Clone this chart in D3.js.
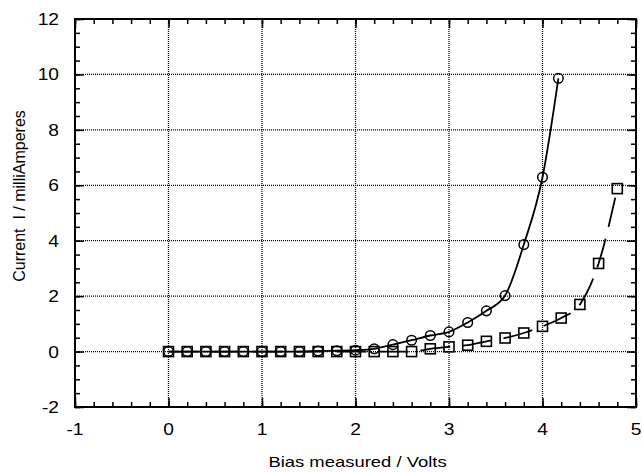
<!DOCTYPE html>
<meta charset="utf-8">
<script src="https://d3js.org/d3.v7.min.js"></script>
<style>
  body { margin: 0; background: #fff; }
  text { font-family: "Liberation Sans", Arial, sans-serif; fill: #000; }
</style>
<div id="chart"></div>
<script>

  // values
  var circleX = [0, 0.2, 0.4, 0.6, 0.8, 1.0, 1.2, 1.4, 1.6, 1.8, 2.0, 2.2, 2.4, 2.6, 2.8, 3.0, 3.2, 3.4, 3.6, 3.8, 4.0, 4.17];
  var circleY = [0, 0, 0, 0, 0, 0, 0, 0, 0.02, 0.03, 0.05, 0.1, 0.25, 0.41, 0.58, 0.71, 1.05, 1.47, 2.02, 3.86, 6.29, 9.86];
  var squareX = [0, 0.2, 0.4, 0.6, 0.8, 1.0, 1.2, 1.4, 1.6, 1.8, 2.0, 2.2, 2.4, 2.6, 2.8, 3.0, 3.2, 3.4, 3.6, 3.8, 4.0, 4.2, 4.4, 4.6, 4.8];
  var squareY = [0, 0, 0, 0, 0, 0, 0, 0, 0, 0, 0, 0, 0, 0, 0.1, 0.17, 0.23, 0.37, 0.49, 0.67, 0.91, 1.21, 1.70, 3.18, 5.88];

  var xTicks = [-1, 0, 1, 2, 3, 4, 5];
  var yTicks = [-2, 0, 2, 4, 6, 8, 10, 12];

  var W = 642, H = 473;
  var margin = {top: 19, right: 6, bottom: 66, left: 75};
  var width = W - margin.left - margin.right,
      height = H - margin.top - margin.bottom;

  var svg = d3.select("#chart")
    .append("svg")
      .attr("width", W)
      .attr("height", H)
    .append("g")
      .attr("transform", "translate(" + margin.left + "," + margin.top + ")");

  var x = d3.scaleLinear().domain([-1, 5]).range([0, width]);
  var y = d3.scaleLinear().domain([-2, 12]).range([height, 0]);

  var xMinor = d3.range(-1, 5.001, 0.2).map(function(d) { return +d.toFixed(1); });
  var yMinor = d3.range(-2, 12.001, 0.5);

  // dotted grid
  svg.append("g")
    .selectAll("line")
    .data(xTicks.slice(1, -1))
    .enter().append("line")
      .attr("x1", function(d) { return x(d); })
      .attr("x2", function(d) { return x(d); })
      .attr("y1", 0).attr("y2", height)
      .attr("stroke", "#000").attr("stroke-width", 1.3)
      .attr("stroke-dasharray", "1,1");
  svg.append("g")
    .selectAll("line")
    .data(yTicks.slice(1, -1))
    .enter().append("line")
      .attr("y1", function(d) { return y(d); })
      .attr("y2", function(d) { return y(d); })
      .attr("x1", 0).attr("x2", width)
      .attr("stroke", "#000").attr("stroke-width", 1.3)
      .attr("stroke-dasharray", "1,1");

  function styleAxis(g) {
    g.select(".domain").remove();
    g.selectAll("line").attr("stroke", "#000").attr("stroke-width", 1.5);
  }

  // minor ticks, all four sides, pointing inward
  svg.append("g").attr("transform", "translate(0," + height + ")")
    .call(d3.axisBottom(x).tickValues(xMinor).tickSize(-5).tickFormat(""))
    .call(styleAxis);
  svg.append("g")
    .call(d3.axisTop(x).tickValues(xMinor).tickSize(-5).tickFormat(""))
    .call(styleAxis);
  svg.append("g")
    .call(d3.axisLeft(y).tickValues(yMinor).tickSize(-5).tickFormat(""))
    .call(styleAxis);
  svg.append("g").attr("transform", "translate(" + width + ",0)")
    .call(d3.axisRight(y).tickValues(yMinor).tickSize(-5).tickFormat(""))
    .call(styleAxis);

  // major ticks
  svg.append("g").attr("transform", "translate(0," + height + ")")
    .call(d3.axisBottom(x).tickValues(xTicks).tickSize(-9).tickFormat(""))
    .call(styleAxis);
  svg.append("g")
    .call(d3.axisLeft(y).tickValues(yTicks).tickSize(-9).tickFormat(""))
    .call(styleAxis);
  svg.append("g")
    .call(d3.axisTop(x).tickValues(xTicks).tickSize(-9).tickFormat(""))
    .call(styleAxis);
  svg.append("g").attr("transform", "translate(" + width + ",0)")
    .call(d3.axisRight(y).tickValues(yTicks).tickSize(-9).tickFormat(""))
    .call(styleAxis);

  // tick labels (the type in the scan is a bit wide, hence the scaleX)
  svg.append("g")
    .selectAll("text")
    .data(xTicks)
    .enter().append("text")
      .attr("transform", function(d) { return "translate(" + x(d) + "," + (height + 28) + ") scale(1.2,1)"; })
      .attr("text-anchor", "middle")
      .style("font-size", "16px")
      .text(function(d) { return String(d); });

  svg.append("g")
    .selectAll("text")
    .data(yTicks)
    .enter().append("text")
      .attr("transform", function(d) { return "translate(-16," + (y(d) + 6) + ") scale(1.2,1)"; })
      .attr("text-anchor", "end")
      .style("font-size", "16px")
      .text(function(d) { return String(d); });

  // frame
  svg.append("rect")
    .attr("width", width).attr("height", height)
    .attr("fill", "none").attr("stroke", "#000").attr("stroke-width", 2);

  var circles = circleX.map(function(d, i) { return {x: d, y: circleY[i]}; });
  var squares = squareX.map(function(d, i) { return {x: d, y: squareY[i]}; });

  var line = d3.line()
    .x(function(d) { return x(d.x); })
    .y(function(d) { return y(d.y); })
    .curve(d3.curveMonotoneX);

  // square series: long dashes
  svg.append("path")
    .datum(squares)
    .attr("d", line)
    .attr("fill", "none").attr("stroke", "#000").attr("stroke-width", 1.8)
    .attr("stroke-dasharray", "30,12");

  // circle series: solid
  svg.append("path")
    .datum(circles)
    .attr("d", line)
    .attr("fill", "none").attr("stroke", "#000").attr("stroke-width", 1.8);

  svg.append("g")
    .selectAll("rect")
    .data(squares)
    .enter().append("rect")
      .attr("x", function(d) { return x(d.x) - 5; })
      .attr("y", function(d) { return y(d.y) - 5; })
      .attr("width", 10).attr("height", 10)
      .attr("fill", "none").attr("stroke", "#000").attr("stroke-width", 1.6);

  svg.append("g")
    .selectAll("circle")
    .data(circles)
    .enter().append("circle")
      .attr("cx", function(d) { return x(d.x); })
      .attr("cy", function(d) { return y(d.y); })
      .attr("r", 4.8)
      .attr("fill", "none").attr("stroke", "#000").attr("stroke-width", 1.5);

  // axis titles
  svg.append("text")
    .attr("transform", "translate(" + (width / 2 + 2) + "," + (height + 60) + ") scale(1.23,1)")
    .attr("text-anchor", "middle")
    .style("font-size", "15px")
    .text("Bias measured / Volts");

  svg.append("text")
    .attr("transform", "translate(" + (-margin.left + 25) + "," + (196 - margin.top) + ") rotate(-90)")
    .attr("text-anchor", "middle")
    .style("font-size", "16px")
    .style("white-space", "pre")
    .text("Current  I / milliAmperes");

</script>
